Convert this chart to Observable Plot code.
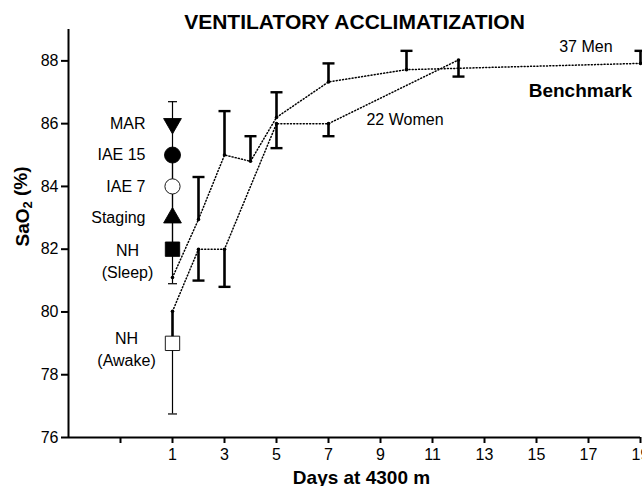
<!DOCTYPE html>
<html>
<head>
<meta charset="utf-8">
<script src="https://cdn.jsdelivr.net/npm/d3@7"></script>
<script src="https://cdn.jsdelivr.net/npm/@observablehq/plot@0.6"></script>
<style>
  body { margin: 0; background: #fff; }
  #chart svg { font-family: "Liberation Sans", Arial, sans-serif; }
</style>
</head>
<body>
<div id="chart"></div>
<script>
// ---- text ----
const title = "VENTILATORY ACCLIMATIZATION";
const xLabel = "Days at 4300 m";
const yLabel = "SaO2 (%)";

// ---- ticks ----
const xTicks = [-1, 1, 3, 5, 7, 9, 11, 13, 15, 17, 19];
const yTicks = [76, 78, 80, 82, 84, 86, 88];

// ---- 37 Men (error bars upward) ----
const menDays  = [1, 2, 3, 4, 5, 7, 10, 19];
const menMean  = [81.1, 82.95, 85.0, 84.8, 86.2, 87.33, 87.72, 87.92];
const menUpper = [null, 84.3, 86.4, 85.6, 87.0, 87.92, 88.32, 88.32];

// ---- 22 Women (error bars downward) ----
const womenDays  = [1, 2, 3, 5, 7, 12];
const womenMean  = [80.02, 82.0, 82.0, 86.0, 86.0, 88.03];
const womenLower = [79.0, 81.0, 80.8, 85.22, 85.6, 87.5];

// ---- reference conditions at day 1 ----
const refNames = ["MAR", "IAE 15", "IAE 7", "Staging", "NH\n(Sleep)", "NH\n(Awake)"];
const refDay   = 1;
const refMean  = [86, 85, 84, 83, 82, 79];
const refLow   = [86, 84, 83, 82, 80.9, 76.75];
const refHigh  = [86.7, 86, 85, 84, 83, 79];
const refCapLow  = [false, false, false, false, true, true];
const refCapHigh = [true, false, false, false, false, false];

// ---- annotations (data coordinates) ----
const menLabel = ["37 Men"];
const menLabelDay = [16.9];
const menLabelVal = [88.45];
const womenLabel = ["22 Women"];
const womenLabelDay = [8.46];
const womenLabelVal = [86.13];
const benchText = ["Benchmark"];
const benchDay  = [16.69];
const benchVal  = [87.03];

// ---- build tables ----
const men = menDays.map((d, i) => ({day: d, mean: menMean[i], hi: menUpper[i]}));
const women = womenDays.map((d, i) => ({day: d, mean: womenMean[i], lo: womenLower[i]}));
const refs = refNames.map((n, i) => ({name: n, day: refDay, mean: refMean[i], lo: refLow[i], hi: refHigh[i], capLo: refCapLow[i], capHi: refCapHigh[i]}));
const menAnno = menLabel.map((t, i) => ({text: t, day: menLabelDay[i], val: menLabelVal[i]}));
const womenAnno = womenLabel.map((t, i) => ({text: t, day: womenLabelDay[i], val: womenLabelVal[i]}));
const bench = benchText.map((t, i) => ({text: t, day: benchDay[i], val: benchVal[i]}));

// marker appearance per condition
const markerStyle = {
  "MAR":         {symbol: "triangle", rotate: 180, fill: "black", r: 6.6},
  "IAE 15":      {symbol: "circle",   rotate: 0,   fill: "black", r: 8},
  "IAE 7":       {symbol: "circle",   rotate: 0,   fill: "white", r: 7.6},
  "Staging":     {symbol: "triangle", rotate: 0,   fill: "black", r: 6.6},
  "NH\n(Sleep)": {symbol: "square",   rotate: 0,   fill: "black", r: 8.1},
  "NH\n(Awake)": {symbol: "square",   rotate: 0,   fill: "white", r: 8.1}
};

// horizontal cap symbol (width = 2r)
const capSymbol = {
  draw(context, size) {
    const w = Math.sqrt(size / Math.PI);
    context.moveTo(-w, 0);
    context.lineTo(w, 0);
  }
};

const dotted = {stroke: "black", strokeWidth: 1.5, strokeDasharray: "1,2.2", curve: "linear"};
const menBars = men.filter(d => d.hi != null);
const singleRefs = refs.filter(d => !d.name.includes("\n"));

const chart = Plot.plot({
  width: 642,
  height: 486,
  marginTop: 29,
  marginBottom: 49,
  marginLeft: 68,
  marginRight: 2,
  style: {fontFamily: "Liberation Sans, Arial, sans-serif", fontSize: "16px", background: "white", overflow: "visible"},
  x: {domain: [-3, 19]},
  y: {domain: [76, 89]},
  r: {type: "identity"},
  marks: [
    // axes
    Plot.axisX({ticks: xTicks, tickFormat: d => d < 0 ? "" : String(d), tickSize: 6, tickPadding: 5, strokeWidth: 2, fontSize: 16, label: null}),
    Plot.axisY({ticks: yTicks, tickSize: 7, tickPadding: 3, strokeWidth: 2, fontSize: 16, label: null}),
    Plot.ruleX([-3], {y1: 76, y2: 89, stroke: "black", strokeWidth: 2}),
    Plot.ruleY([76], {x1: -3, x2: 19, stroke: "black", strokeWidth: 2}),

    // dotted series lines
    Plot.line(men, {x: "day", y: "mean", ...dotted}),
    Plot.line(women, {x: "day", y: "mean", ...dotted}),

    // thick error bars
    Plot.ruleX(menBars, {x: "day", y1: "mean", y2: "hi", stroke: "black", strokeWidth: 2.6}),
    Plot.dot(menBars, {x: "day", y: "hi", symbol: capSymbol, r: 6, stroke: "black", strokeWidth: 2.4}),
    Plot.ruleX(women, {x: "day", y1: "mean", y2: "lo", stroke: "black", strokeWidth: 2.6}),
    Plot.dot(women, {x: "day", y: "lo", symbol: capSymbol, r: 6, stroke: "black", strokeWidth: 2.4}),

    // mean points
    Plot.dot(men, {x: "day", y: "mean", r: 1.8, fill: "black"}),
    Plot.dot(women, {x: "day", y: "mean", r: 1.8, fill: "black"}),

    // thin reference bars
    Plot.ruleX(refs, {x: "day", y1: "lo", y2: "hi", stroke: "black", strokeWidth: 1.2}),
    Plot.dot(refs.filter(d => d.capHi), {x: "day", y: "hi", symbol: capSymbol, r: 4.5, stroke: "black", strokeWidth: 1.2}),
    Plot.dot(refs.filter(d => d.capLo), {x: "day", y: "lo", symbol: capSymbol, r: 4.5, stroke: "black", strokeWidth: 1.2}),

    // reference markers
    Plot.dot(refs, {
      x: "day", y: "mean",
      symbol: d => markerStyle[d.name].symbol,
      rotate: d => markerStyle[d.name].rotate,
      r: d => markerStyle[d.name].r,
      fill: d => markerStyle[d.name].fill,
      stroke: "black", strokeWidth: 0.9
    }),

    // reference labels
    Plot.text(singleRefs, {x: "day", y: "mean", text: "name", textAnchor: "end", dx: -27, fontSize: 16, fill: "black"}),
    Plot.text(refs.filter(d => d.name.includes("Sleep")), {x: "day", y: "mean", text: "name", textAnchor: "middle", dx: -45, dy: 11, lineHeight: 1.35, fontSize: 16, fill: "black"}),
    Plot.text(refs.filter(d => d.name.includes("Awake")), {x: "day", y: "mean", text: "name", textAnchor: "middle", dx: -46, dy: 5, lineHeight: 1.35, fontSize: 16, fill: "black"}),

    // annotations
    Plot.text(menAnno, {x: "day", y: "val", text: "text", textAnchor: "middle", fontSize: 16, fill: "black"}),
    Plot.text(womenAnno, {x: "day", y: "val", text: "text", textAnchor: "start", fontSize: 16, fill: "black"}),
    Plot.text(bench, {x: "day", y: "val", text: "text", textAnchor: "middle", fontSize: 19, fontWeight: "bold", fill: "black"}),

    // title and axis titles
    Plot.text([title], {frameAnchor: "top", lineAnchor: "bottom", dy: -1, fontSize: 21, fontWeight: "bold", fill: "black"}),
    Plot.text([xLabel], {frameAnchor: "bottom", lineAnchor: "bottom", dx: 7, dy: 46, fontSize: 19, fontWeight: "bold", fill: "black"}),
    Plot.text([yLabel], {frameAnchor: "left", rotate: -90, dx: -46, dy: 13, fontSize: 19, fontWeight: "bold", fill: "black", className: "ylabel"})
  ]
});

document.getElementById("chart").appendChild(chart);

// subscript the "2" in SaO2
d3.select(chart).selectAll("g.ylabel text").each(function () {
  const t = d3.select(this);
  if (t.text() !== yLabel) return;
  t.text(null);
  t.append("tspan").text("SaO");
  t.append("tspan").attr("font-size", "13px").attr("dy", "0.3em").text("2");
  t.append("tspan").attr("dy", "-0.3em").text(" (%)");
});
</script>
</body>
</html>
